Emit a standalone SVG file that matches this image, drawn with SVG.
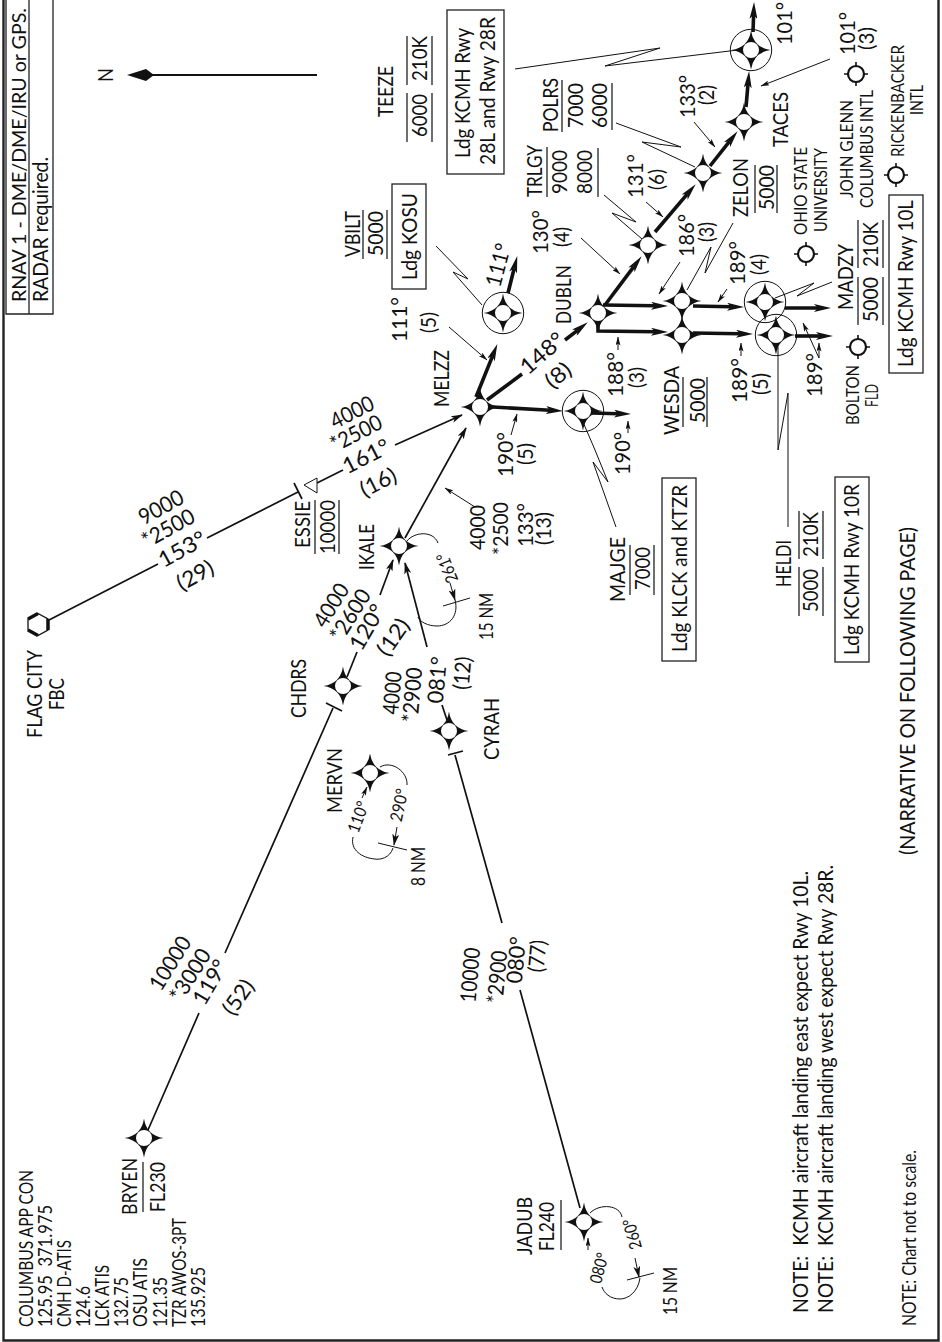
<svg xmlns="http://www.w3.org/2000/svg" width="942" height="1342" viewBox="0 0 942 1342">
<style>
text{font-family:"Lato","Liberation Sans",sans-serif;fill:#111;white-space:pre}
.t{font-size:22px}.s{font-size:18.5px}.m{font-size:17px}.h{font-size:17px}.n{font-size:20px}
.l{fill:none;stroke:#111;stroke-width:1.7}
.k{fill:none;stroke:#111;stroke-width:3.6}
.f{fill:none;stroke:#111;stroke-width:1}
.r{fill:none;stroke:#222;stroke-width:1.3}
.b{fill:#fff;stroke:#222;stroke-width:1.3}
</style>
<defs>
<marker id="ak" markerUnits="userSpaceOnUse" viewBox="0 0 17 8" markerWidth="17" markerHeight="8" refX="4" refY="4" orient="auto"><path d="M17 4L0 0L4 4L0 8z" fill="#111"/></marker>
<marker id="at" markerUnits="userSpaceOnUse" viewBox="0 0 12 7" markerWidth="12" markerHeight="7" refX="11" refY="3.5" orient="auto"><path d="M12 3.5L0 0L3 3.5L0 7z" fill="#111"/></marker>
<marker id="al" markerUnits="userSpaceOnUse" viewBox="0 0 9 5" markerWidth="9" markerHeight="5" refX="8.5" refY="2.5" orient="auto"><path d="M9 2.5L0 0L2 2.5L0 5z" fill="#111"/></marker>
<g id="wp"><path d="M0-19.5Q2.5-2.5 19.5 0Q2.5 2.5 0 19.5Q-2.5 2.5-19.5 0Q-2.5-2.5 0-19.5z" fill="#111"/><circle r="8" fill="#fff"/></g>
<g id="ap"><path d="M0-12V12M-12 0H12" stroke="#111" stroke-width="1.6"/><circle r="8" fill="#fff" stroke="#111" stroke-width="2.2"/></g>
</defs>

<g id="frame">
<path class="r" style="stroke-width:2.4" d="M3.5 0V1340.5H938.5V0"/>
<path class="r" d="M6 0V314H53V0M29 0V314"/>
<text class="n" transform="translate(26,302) rotate(-90)" textLength="294" lengthAdjust="spacingAndGlyphs">RNAV 1 - DME/DME/IRU or GPS.</text>
<text class="t" transform="translate(48,302) rotate(-90)" textLength="145" lengthAdjust="spacingAndGlyphs">RADAR required.</text>
</g>

<g id="north">
<path d="M150 75H317" stroke="#111" stroke-width="1.8"/>
<path d="M127 75L146 69L154 75L146 81z" fill="#111"/>
<text class="t" transform="translate(113,82) rotate(-90)" textLength="14" lengthAdjust="spacingAndGlyphs">N</text>
</g>

<g id="connectors">
<g class="l">
<path d="M49 620L158 564M207 538L298 492"/>
<path d="M317 483L343 470"/>
<path d="M395 445L462 415" marker-end="url(#at)"/>
<path d="M148 1130L199 1013M225 953L333 708"/>
<path d="M347 677L357 652"/>
<path d="M380 595L393 560" marker-end="url(#at)"/>
<path d="M427 647L405 563" marker-end="url(#at)"/>
<path d="M442 705L447 720"/>
<path d="M455 755L502 923M520 990L580 1208"/>
<path d="M405 538L466 428" marker-end="url(#at)"/>
</g>
<g class="k">
<path d="M476 397L492.5 356.1" marker-end="url(#ak)"/>
<path d="M508 293L514.1 268.6" marker-end="url(#ak)"/>
<path d="M487 400L522 374"/>
<path d="M565 340L577.5 330.3" marker-end="url(#ak)"/>
<path d="M493 407L550 410.3" marker-end="url(#ak)"/>
<path d="M592 413L618 413.7" marker-end="url(#ak)"/>
<path d="M605 305L633.8 266.6" marker-end="url(#ak)"/>
<path d="M655 232L687.2 194.1" marker-end="url(#ak)"/>
<path d="M710 166L729.5 141.4" marker-end="url(#ak)"/>
<path d="M746 107L748 84" marker-end="url(#ak)"/>
<path d="M753 32L753.6 15" marker-end="url(#ak)"/>
<path d="M603 305L655 305.8" marker-end="url(#ak)"/>
<path d="M693 306L731 306.8" marker-end="url(#ak)"/>
<path d="M785 308L818 308" marker-end="url(#ak)"/>
<path d="M598 322V331L655 331.8" marker-end="url(#ak)"/>
<path d="M693 333L740 333.8" marker-end="url(#ak)"/>
<path d="M795 336L820 336" marker-end="url(#ak)"/>
</g>
<g class="f">
<path d="M581 238L620 274" marker-end="url(#al)"/>
<path d="M646 202L663 217" marker-end="url(#al)"/>
<path d="M694 122L715 147" marker-end="url(#al)"/>
<path d="M830 59L761 86" marker-end="url(#al)"/>
<path d="M449 327L487 360" marker-end="url(#al)"/>
<path d="M680 262L659 294" marker-end="url(#al)"/>
<path d="M727 289L718 302" marker-end="url(#al)"/>
<path d="M618 350V337" marker-end="url(#al)"/>
<path d="M741 356V343" marker-end="url(#al)"/>
<path d="M511 435L517 414" marker-end="url(#al)"/>
<path d="M628 433V421" marker-end="url(#al)"/>
<path d="M819 358L803 323" marker-end="url(#al)"/>
<path d="M819 358V343" marker-end="url(#al)"/>
<path d="M475 507L445 488" marker-end="url(#al)"/>
<path d="M616 123L681 147L642 142L695 167"/>
<path d="M604 195L636 222L612 213L642 239"/>
<path d="M733 223L705 273L711 247L687 290"/>
<path d="M515 69L660 48L605 66L738 50"/>
<path d="M832 282L797 296L814 283L775 298"/>
<path d="M788 527V393L778 450V347"/>
<path d="M616 527L593 462L608 482L595 450L583 422"/>
<path d="M436 246L468 279L453 272L482 305"/>
<!-- holding patterns -->
<path d="M407 541C414 532 433 530 438 543"/>
<path d="M450 583L455 600" marker-end="url(#at)"/>
<path d="M443 606L470 598"/>
<path d="M455 600C459 615 450 626 437 626C428 626 420 622 418 617"/>
<path d="M380 767C392 760 408 772 407 785"/>
<path d="M397 827L394 845" marker-end="url(#at)"/>
<path d="M378 843L407 850"/>
<path d="M393 848C390 858 380 860 375 859C362 858 350 850 353 837"/>
<path d="M362 798L367 787" marker-end="url(#al)"/>
<path d="M590 1213C600 1203 620 1205 622 1217"/>
<path d="M635 1258L639 1277" marker-end="url(#at)"/>
<path d="M627 1280L654 1273"/>
<path d="M640 1278C638 1292 628 1299 620 1299C610 1299 604 1293 602 1287"/>
<path d="M588 1250V1238" marker-end="url(#al)"/>
</g>
</g>

<g id="FBC">
<path d="M38 613.5L48 619V630L38 635.5L28 630V619z" fill="#fff" stroke="#111" stroke-width="1.3"/>
<path d="M48 619V630M28 619L38 613.5M28 630L38 635.5" stroke="#111" stroke-width="3.5" fill="none"/>
<text class="t" transform="translate(42,738) rotate(-90)" textLength="88" lengthAdjust="spacingAndGlyphs">FLAG CITY</text>
<text class="t" transform="translate(64,710) rotate(-90)" textLength="32" lengthAdjust="spacingAndGlyphs">FBC</text>
</g>
<g id="ESSIE">
<path class="l" d="M294 483L302 499"/><path d="M317 478V493L304 485z" fill="#fff" stroke="#111"/>
<path class="r" d="M315 554V500M339 554V500"/>
<text class="t" transform="translate(310,548) rotate(-90)" textLength="47" lengthAdjust="spacingAndGlyphs">ESSIE</text>
<text class="t" transform="translate(335,554) rotate(-90)" textLength="54" lengthAdjust="spacingAndGlyphs">10000</text>
</g>
<g id="BRYEN"><use href="#wp" x="144" y="1138"/>
<path class="r" d="M143 1212V1162"/>
<text class="t" transform="translate(137,1215) rotate(-90)" textLength="57" lengthAdjust="spacingAndGlyphs">BRYEN</text>
<text class="t" transform="translate(165,1212) rotate(-90)" textLength="50" lengthAdjust="spacingAndGlyphs">FL230</text>
</g>
<g id="JADUB"><use href="#wp" x="584" y="1222"/>
<path class="r" d="M561 1250V1200"/>
<text class="t" transform="translate(532,1255) rotate(-90)" textLength="58" lengthAdjust="spacingAndGlyphs">JADUB</text>
<text class="t" transform="translate(554,1251) rotate(-90)" textLength="49" lengthAdjust="spacingAndGlyphs">FL240</text>
<text class="h" text-anchor="middle" dy=".36em" transform="translate(632,1234) rotate(-105)" textLength="31" lengthAdjust="spacingAndGlyphs">260°</text>
<text class="h" text-anchor="middle" dy=".36em" transform="translate(599,1268) rotate(-75)" textLength="31" lengthAdjust="spacingAndGlyphs">080°</text>
<text class="s" transform="translate(677,1315) rotate(-90)" textLength="48" lengthAdjust="spacingAndGlyphs">15 NM</text>
</g>
<g id="MERVN"><use href="#wp" x="370" y="773"/>
<text class="t" transform="translate(342,813) rotate(-90)" textLength="65" lengthAdjust="spacingAndGlyphs">MERVN</text>
<text class="h" text-anchor="middle" dy=".36em" transform="translate(399,805) rotate(-78)" textLength="33" lengthAdjust="spacingAndGlyphs">290°</text>
<text class="h" text-anchor="middle" dy=".36em" transform="translate(358,817) rotate(-70)" textLength="32" lengthAdjust="spacingAndGlyphs">110°</text>
<text class="s" transform="translate(425,886) rotate(-90)" textLength="39" lengthAdjust="spacingAndGlyphs">8 NM</text>
</g>
<g id="CHDRS"><use href="#wp" x="343" y="686"/>
<path class="l" d="M326 703L342 711"/>
<text class="t" transform="translate(306,718) rotate(-90)" textLength="59" lengthAdjust="spacingAndGlyphs">CHDRS</text>
</g>
<g id="CYRAH"><use href="#wp" x="449" y="731"/>
<path class="l" d="M448 755L463 751"/>
<text class="t" transform="translate(499,760) rotate(-90)" textLength="62" lengthAdjust="spacingAndGlyphs">CYRAH</text>
</g>
<g id="IKALE"><use href="#wp" x="399" y="546"/>
<text class="t" transform="translate(374,570) rotate(-90)" textLength="46" lengthAdjust="spacingAndGlyphs">IKALE</text>
<text class="h" text-anchor="middle" dy=".36em" transform="translate(447,568) rotate(-112)" textLength="31" lengthAdjust="spacingAndGlyphs">261°</text>
<text class="s" transform="translate(493,640) rotate(-90)" textLength="47" lengthAdjust="spacingAndGlyphs">15 NM</text>
</g>
<g id="MELZZ"><use href="#wp" x="480" y="407"/>
<text class="t" transform="translate(449,407) rotate(-90)" textLength="57" lengthAdjust="spacingAndGlyphs">MELZZ</text>
</g>
<g id="VBILT"><circle class="f" cx="503" cy="313" r="20.7"/><use href="#wp" x="503" y="313"/>
<path class="r" d="M363 259V210M387 259V210"/>
<text class="t" transform="translate(360,257) rotate(-90)" textLength="46" lengthAdjust="spacingAndGlyphs">VBILT</text>
<text class="t" transform="translate(383,256) rotate(-90)" textLength="45" lengthAdjust="spacingAndGlyphs">5000</text>
<rect class="r" x="392" y="184" width="34" height="105"/>
<text class="t" transform="translate(417,280) rotate(-90)" textLength="87" lengthAdjust="spacingAndGlyphs">Ldg KOSU</text>
</g>
<g id="MAJGE"><circle class="f" cx="583" cy="411" r="20.7"/><use href="#wp" x="583" y="411"/>
<path class="r" d="M630 595V545M654 595V545"/>
<text class="t" transform="translate(625,602) rotate(-90)" textLength="65" lengthAdjust="spacingAndGlyphs">MAJGE</text>
<text class="t" transform="translate(650,590) rotate(-90)" textLength="43" lengthAdjust="spacingAndGlyphs">7000</text>
<rect class="r" x="662" y="478" width="34" height="183"/>
<text class="t" transform="translate(687,652) rotate(-90)" textLength="167" lengthAdjust="spacingAndGlyphs">Ldg KLCK and KTZR</text>
</g>
<g id="DUBLN"><use href="#wp" x="598" y="313"/>
<text class="t" transform="translate(571,324) rotate(-90)" textLength="59" lengthAdjust="spacingAndGlyphs">DUBLN</text>
</g>
<g id="TRLGY"><use href="#wp" x="648" y="245"/>
<path class="r" d="M547 197V147M598 197V148"/>
<text class="t" transform="translate(542,197) rotate(-90)" textLength="52" lengthAdjust="spacingAndGlyphs">TRLGY</text>
<text class="t" transform="translate(567,194) rotate(-90)" textLength="44" lengthAdjust="spacingAndGlyphs">9000</text>
<text class="t" transform="translate(592,194) rotate(-90)" textLength="44" lengthAdjust="spacingAndGlyphs">8000</text>
</g>
<g id="POLRS"><use href="#wp" x="703" y="173"/>
<path class="r" d="M562 132V80M612 130V83"/>
<text class="t" transform="translate(558,132) rotate(-90)" textLength="54" lengthAdjust="spacingAndGlyphs">POLRS</text>
<text class="t" transform="translate(583,128) rotate(-90)" textLength="45" lengthAdjust="spacingAndGlyphs">7000</text>
<text class="t" transform="translate(607,128) rotate(-90)" textLength="45" lengthAdjust="spacingAndGlyphs">6000</text>
</g>
<g id="TACES"><use href="#wp" x="744" y="122"/>
<text class="t" transform="translate(788,147) rotate(-90)" textLength="55" lengthAdjust="spacingAndGlyphs">TACES</text>
</g>
<g id="TEEZE"><circle class="f" cx="751" cy="50" r="20.7"/><use href="#wp" x="751" y="50"/>
<path class="r" d="M407 142V93M407 85V36M432 142V93M432 85V36"/>
<text class="t" transform="translate(393,117) rotate(-90)" textLength="51" lengthAdjust="spacingAndGlyphs">TEEZE</text>
<text class="t" transform="translate(427,137) rotate(-90)" textLength="43" lengthAdjust="spacingAndGlyphs">6000</text>
<text class="t" transform="translate(427,81) rotate(-90)" textLength="45" lengthAdjust="spacingAndGlyphs">210K</text>
<rect class="r" x="447" y="10" width="57" height="164"/>
<text class="t" transform="translate(470,158) rotate(-90)" textLength="130" lengthAdjust="spacingAndGlyphs">Ldg KCMH Rwy</text>
<text class="t" transform="translate(495,165) rotate(-90)" textLength="148" lengthAdjust="spacingAndGlyphs">28L and Rwy 28R</text>
</g>
<g id="ZELON"><use href="#wp" x="682" y="301"/>
<path class="r" d="M755 213V165M777 213V165"/>
<text class="t" transform="translate(748,217) rotate(-90)" textLength="59" lengthAdjust="spacingAndGlyphs">ZELON</text>
<text class="t" transform="translate(774,210) rotate(-90)" textLength="45" lengthAdjust="spacingAndGlyphs">5000</text>
</g>
<g id="WESDA"><use href="#wp" x="682" y="335"/>
<path class="r" d="M683 427V377M707 427V377"/>
<text class="t" transform="translate(679,435) rotate(-90)" textLength="69" lengthAdjust="spacingAndGlyphs">WESDA</text>
<text class="t" transform="translate(705,423) rotate(-90)" textLength="45" lengthAdjust="spacingAndGlyphs">5000</text>
</g>
<g id="MADZY"><circle class="f" cx="765" cy="302" r="20.7"/><use href="#wp" x="765" y="302"/>
<path class="r" d="M858 325V277M858 268V220M883 325V277M883 268V220"/>
<text class="t" transform="translate(853,310) rotate(-90)" textLength="66" lengthAdjust="spacingAndGlyphs">MADZY</text>
<text class="t" transform="translate(878,322) rotate(-90)" textLength="45" lengthAdjust="spacingAndGlyphs">5000</text>
<text class="t" transform="translate(878,267) rotate(-90)" textLength="45" lengthAdjust="spacingAndGlyphs">210K</text>
<rect class="r" x="889" y="195" width="34" height="178"/>
<text class="t" transform="translate(913,367) rotate(-90)" textLength="167" lengthAdjust="spacingAndGlyphs">Ldg KCMH Rwy 10L</text>
</g>
<g id="HELDI"><circle class="f" cx="776" cy="335" r="20.7"/><use href="#wp" x="776" y="335"/>
<path class="r" d="M799 616V567M799 559V511M823 616V567M823 559V511"/>
<text class="t" transform="translate(791,587) rotate(-90)" textLength="47" lengthAdjust="spacingAndGlyphs">HELDI</text>
<text class="t" transform="translate(818,612) rotate(-90)" textLength="43" lengthAdjust="spacingAndGlyphs">5000</text>
<text class="t" transform="translate(818,557) rotate(-90)" textLength="45" lengthAdjust="spacingAndGlyphs">210K</text>
<rect class="r" x="835" y="477" width="34" height="185"/>
<text class="t" transform="translate(859,655) rotate(-90)" textLength="171" lengthAdjust="spacingAndGlyphs">Ldg KCMH Rwy 10R</text>
</g>

<g id="OSU"><use href="#ap" x="806" y="254"/>
<text class="m" transform="translate(807,235) rotate(-90)" textLength="88" lengthAdjust="spacingAndGlyphs">OHIO STATE</text>
<text class="m" transform="translate(827,232) rotate(-90)" textLength="84" lengthAdjust="spacingAndGlyphs">UNIVERSITY</text>
</g>
<g id="CMH"><use href="#ap" x="856" y="74"/>
<text class="m" transform="translate(853,198) rotate(-90)" textLength="98" lengthAdjust="spacingAndGlyphs">JOHN GLENN</text>
<text class="m" transform="translate(873,208) rotate(-90)" textLength="118" lengthAdjust="spacingAndGlyphs">COLUMBUS INTL</text>
</g>
<g id="LCK"><use href="#ap" x="896" y="175"/>
<text class="m" transform="translate(904,157) rotate(-90)" textLength="112" lengthAdjust="spacingAndGlyphs">RICKENBACKER</text>
<text class="m" transform="translate(923,115) rotate(-90)" textLength="30" lengthAdjust="spacingAndGlyphs">INTL</text>
</g>
<g id="TZR"><use href="#ap" x="858" y="347"/>
<text class="m" transform="translate(859,425) rotate(-90)" textLength="60" lengthAdjust="spacingAndGlyphs">BOLTON</text>
<text class="m" transform="translate(878,407) rotate(-90)" textLength="23" lengthAdjust="spacingAndGlyphs">FLD</text>
</g>

<g id="leg-labels">
<text class="t" text-anchor="middle" dy=".36em" transform="translate(161,507) rotate(-29)" textLength="48" lengthAdjust="spacingAndGlyphs">9000</text>
<text class="t" text-anchor="middle" dy=".36em" transform="translate(168,528) rotate(-29)" textLength="57" lengthAdjust="spacingAndGlyphs">*2500</text>
<text class="t" text-anchor="middle" dy=".36em" transform="translate(182,549) rotate(-29)" textLength="51" lengthAdjust="spacingAndGlyphs">153°</text>
<text class="t" text-anchor="middle" dy=".36em" transform="translate(195,575) rotate(-29)" textLength="39" lengthAdjust="spacingAndGlyphs">(29)</text>
<text class="t" text-anchor="middle" dy=".36em" transform="translate(352,412) rotate(-27)" textLength="46" lengthAdjust="spacingAndGlyphs">4000</text>
<text class="t" text-anchor="middle" dy=".36em" transform="translate(356,433) rotate(-27)" textLength="55" lengthAdjust="spacingAndGlyphs">*2500</text>
<text class="t" text-anchor="middle" dy=".36em" transform="translate(366,456) rotate(-27)" textLength="50" lengthAdjust="spacingAndGlyphs">161°</text>
<text class="t" text-anchor="middle" dy=".36em" transform="translate(378,482) rotate(-27)" textLength="38" lengthAdjust="spacingAndGlyphs">(16)</text>
<text class="t" text-anchor="middle" dy=".36em" transform="translate(331,605) rotate(-58)" textLength="47" lengthAdjust="spacingAndGlyphs">4000</text>
<text class="t" text-anchor="middle" dy=".36em" transform="translate(350,615) rotate(-58)" textLength="57" lengthAdjust="spacingAndGlyphs">*2600</text>
<text class="t" text-anchor="middle" dy=".36em" transform="translate(367,627) rotate(-60)" textLength="49" lengthAdjust="spacingAndGlyphs">120°</text>
<text class="t" text-anchor="middle" dy=".36em" transform="translate(393,637) rotate(-55)" textLength="40" lengthAdjust="spacingAndGlyphs">(12)</text>
<text class="t" text-anchor="middle" dy=".36em" transform="translate(392,693) rotate(-85)" textLength="43" lengthAdjust="spacingAndGlyphs">4000</text>
<text class="t" text-anchor="middle" dy=".36em" transform="translate(412,695) rotate(-85)" textLength="55" lengthAdjust="spacingAndGlyphs">*2900</text>
<text class="t" text-anchor="middle" dy=".36em" transform="translate(437,680) rotate(-85)" textLength="47" lengthAdjust="spacingAndGlyphs">081°</text>
<text class="t" text-anchor="middle" dy=".36em" transform="translate(462,673) rotate(-85)" textLength="33" lengthAdjust="spacingAndGlyphs">(12)</text>
<text class="t" text-anchor="middle" dy=".36em" transform="translate(170,963) rotate(-58)" textLength="59" lengthAdjust="spacingAndGlyphs">10000</text>
<text class="t" text-anchor="middle" dy=".36em" transform="translate(190,975) rotate(-58)" textLength="58" lengthAdjust="spacingAndGlyphs">*3000</text>
<text class="t" text-anchor="middle" dy=".36em" transform="translate(210,982) rotate(-60)" textLength="48" lengthAdjust="spacingAndGlyphs">119°</text>
<text class="t" text-anchor="middle" dy=".36em" transform="translate(238,997) rotate(-55)" textLength="38" lengthAdjust="spacingAndGlyphs">(52)</text>
<text class="t" text-anchor="middle" dy=".36em" transform="translate(470,975) rotate(-85)" textLength="55" lengthAdjust="spacingAndGlyphs">10000</text>
<text class="t" text-anchor="middle" dy=".36em" transform="translate(497,977) rotate(-85)" textLength="53" lengthAdjust="spacingAndGlyphs">*2900</text>
<text class="t" text-anchor="middle" dy=".36em" transform="translate(516,960) rotate(-85)" textLength="47" lengthAdjust="spacingAndGlyphs">080°</text>
<text class="t" text-anchor="middle" dy=".36em" transform="translate(537,956) rotate(-85)" textLength="32" lengthAdjust="spacingAndGlyphs">(77)</text>
<text class="t" text-anchor="middle" dy=".36em" transform="translate(542,353) rotate(-41)" textLength="51" lengthAdjust="spacingAndGlyphs">148°</text>
<text class="t" text-anchor="middle" dy=".36em" transform="translate(558,375) rotate(-40)" textLength="27" lengthAdjust="spacingAndGlyphs">(8)</text>
<text class="t" text-anchor="middle" dy=".36em" transform="translate(498,265) rotate(-75)" textLength="44" lengthAdjust="spacingAndGlyphs">111°</text>
<text class="t" transform="translate(485,550) rotate(-90)" textLength="45" lengthAdjust="spacingAndGlyphs">4000</text>
<text class="t" transform="translate(508,555) rotate(-90)" textLength="53" lengthAdjust="spacingAndGlyphs">*2500</text>
<text class="t" transform="translate(533,547) rotate(-90)" textLength="44" lengthAdjust="spacingAndGlyphs">133°</text>
<text class="t" transform="translate(551,545) rotate(-90)" textLength="33" lengthAdjust="spacingAndGlyphs">(13)</text>
<text class="t" transform="translate(407,342) rotate(-90)" textLength="45" lengthAdjust="spacingAndGlyphs">111°</text>
<text class="t" transform="translate(436,333) rotate(-90)" textLength="21" lengthAdjust="spacingAndGlyphs">(5)</text>
<text class="t" transform="translate(792,45) rotate(-90)" textLength="43" lengthAdjust="spacingAndGlyphs">101°</text>
<text class="t" transform="translate(855,55) rotate(-90)" textLength="43" lengthAdjust="spacingAndGlyphs">101°</text>
<text class="t" transform="translate(874,50) rotate(-90)" textLength="23" lengthAdjust="spacingAndGlyphs">(3)</text>
<text class="t" transform="translate(695,118) rotate(-90)" textLength="43" lengthAdjust="spacingAndGlyphs">133°</text>
<text class="t" transform="translate(714,105) rotate(-90)" textLength="20" lengthAdjust="spacingAndGlyphs">(2)</text>
<text class="t" transform="translate(643,198) rotate(-90)" textLength="44" lengthAdjust="spacingAndGlyphs">131°</text>
<text class="t" transform="translate(664,190) rotate(-90)" textLength="21" lengthAdjust="spacingAndGlyphs">(6)</text>
<text class="t" transform="translate(548,254) rotate(-90)" textLength="44" lengthAdjust="spacingAndGlyphs">130°</text>
<text class="t" transform="translate(569,247) rotate(-90)" textLength="20" lengthAdjust="spacingAndGlyphs">(4)</text>
<text class="t" transform="translate(694,257) rotate(-90)" textLength="43" lengthAdjust="spacingAndGlyphs">186°</text>
<text class="t" transform="translate(714,242) rotate(-90)" textLength="20" lengthAdjust="spacingAndGlyphs">(3)</text>
<text class="t" transform="translate(745,285) rotate(-90)" textLength="44" lengthAdjust="spacingAndGlyphs">189°</text>
<text class="t" transform="translate(766,275) rotate(-90)" textLength="21" lengthAdjust="spacingAndGlyphs">(4)</text>
<text class="t" transform="translate(623,397) rotate(-90)" textLength="45" lengthAdjust="spacingAndGlyphs">188°</text>
<text class="t" transform="translate(644,388) rotate(-90)" textLength="21" lengthAdjust="spacingAndGlyphs">(3)</text>
<text class="t" transform="translate(747,403) rotate(-90)" textLength="45" lengthAdjust="spacingAndGlyphs">189°</text>
<text class="t" transform="translate(768,395) rotate(-90)" textLength="22" lengthAdjust="spacingAndGlyphs">(5)</text>
<text class="t" transform="translate(822,397) rotate(-90)" textLength="44" lengthAdjust="spacingAndGlyphs">189°</text>
<text class="t" transform="translate(513,477) rotate(-90)" textLength="45" lengthAdjust="spacingAndGlyphs">190°</text>
<text class="t" transform="translate(533,465) rotate(-90)" textLength="22" lengthAdjust="spacingAndGlyphs">(5)</text>
<text class="t" transform="translate(630,475) rotate(-90)" textLength="43" lengthAdjust="spacingAndGlyphs">190°</text>
</g>

<g id="frequencies">
<text class="s" transform="translate(33,1327) rotate(-90)" textLength="157" lengthAdjust="spacingAndGlyphs">COLUMBUS APP CON</text>
<text class="s" transform="translate(52,1327) rotate(-90)" textLength="122" lengthAdjust="spacingAndGlyphs">125.95  371.975</text>
<text class="s" transform="translate(71,1327) rotate(-90)" textLength="87" lengthAdjust="spacingAndGlyphs">CMH D-ATIS</text>
<text class="s" transform="translate(90,1327) rotate(-90)" textLength="41" lengthAdjust="spacingAndGlyphs">124.6</text>
<text class="s" transform="translate(109,1327) rotate(-90)" textLength="62" lengthAdjust="spacingAndGlyphs">LCK ATIS</text>
<text class="s" transform="translate(128,1327) rotate(-90)" textLength="50" lengthAdjust="spacingAndGlyphs">132.75</text>
<text class="s" transform="translate(147,1327) rotate(-90)" textLength="69" lengthAdjust="spacingAndGlyphs">OSU ATIS</text>
<text class="s" transform="translate(167,1327) rotate(-90)" textLength="50" lengthAdjust="spacingAndGlyphs">121.35</text>
<text class="s" transform="translate(186,1327) rotate(-90)" textLength="109" lengthAdjust="spacingAndGlyphs">TZR AWOS-3PT</text>
<text class="s" transform="translate(205,1327) rotate(-90)" textLength="60" lengthAdjust="spacingAndGlyphs">135.925</text>
</g>

<g id="notes">
<text class="t" transform="translate(808,1313) rotate(-90)" textLength="442" lengthAdjust="spacingAndGlyphs">NOTE:  KCMH aircraft landing east expect Rwy 10L.</text>
<text class="t" transform="translate(833,1313) rotate(-90)" textLength="448" lengthAdjust="spacingAndGlyphs">NOTE:  KCMH aircraft landing west expect Rwy 28R.</text>
<text class="s" transform="translate(916,1326) rotate(-90)" textLength="176" lengthAdjust="spacingAndGlyphs">NOTE: Chart not to scale.</text>
<text class="t" transform="translate(915,855) rotate(-90)" textLength="328" lengthAdjust="spacingAndGlyphs">(NARRATIVE ON FOLLOWING PAGE)</text>
</g>
</svg>
